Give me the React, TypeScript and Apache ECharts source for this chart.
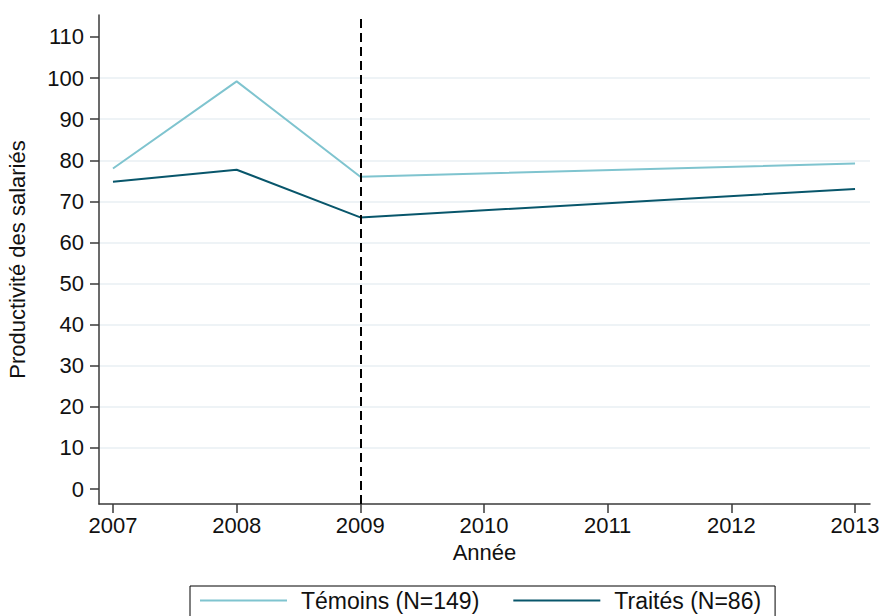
import React, { useEffect, useRef } from "react";
import * as echarts from "echarts";

const years = [2007, 2008, 2009, 2010, 2011, 2012, 2013];
const yTicks = [0, 10, 20, 30, 40, 50, 60, 70, 80, 90, 100, 110];
const gridValues = [10, 20, 30, 40, 50, 60, 70, 80, 90, 100];
const temoinsYears = [2007, 2008, 2009, 2013];
const temoinsValues = [78.0, 99.2, 76.0, 79.2];
const traitesYears = [2007, 2008, 2009, 2013];
const traitesValues = [74.8, 77.7, 66.1, 73.0];
const treatmentYear = 2009;
const seriesNames = ["Témoins (N=149)", "Traités (N=86)"];

const FONT = "'Liberation Sans', Arial, sans-serif";
const FS = 22;

export default function App() {
  const ref = useRef<HTMLDivElement>(null);
  useEffect(() => {
    if (!ref.current) return;
    const chart = echarts.init(ref.current, null, { renderer: "svg" });
    chart.setOption({
      animation: false,
      backgroundColor: "#ffffff",
      textStyle: { fontFamily: FONT },
      grid: { left: 99, right: 14, top: 15, bottom: 112, outerBoundsMode: "none", containLabel: false },
      legend: {
        data: seriesNames,
        left: 190,
        top: 586,
        orient: "horizontal",
        icon: "rect",
        itemWidth: 87,
        itemHeight: 2,
        itemGap: 34,
        padding: [3, 14, 14, 10],
        borderColor: "#000000",
        borderWidth: 1,
        textStyle: { fontSize: 23, color: "#111", fontFamily: FONT, padding: [0, 0, 0, 9] },
      },
      xAxis: {
        type: "value",
        min: 2006.887,
        max: 2013.121,
        name: "Année",
        nameLocation: "middle",
        nameGap: 37,
        nameTextStyle: { fontSize: FS, color: "#111", fontFamily: FONT },
        axisLine: { show: true, onZero: false, lineStyle: { color: "#3a3a3a", width: 1.5 } },
        axisTick: { show: true, length: 9, customValues: years, lineStyle: { color: "#3a3a3a", width: 1.5 } },
        axisLabel: {
          customValues: years,
          fontSize: FS,
          color: "#111",
          margin: 10,
          fontFamily: FONT,
          formatter: (v: number) => String(v),
        },
        splitLine: { show: false },
      },
      yAxis: {
        type: "value",
        min: -3.65,
        max: 115.35,
        name: "Productivité des salariés",
        nameLocation: "middle",
        nameGap: 71,
        nameTextStyle: { fontSize: FS, color: "#111", fontFamily: FONT },
        axisLine: { show: true, onZero: false, lineStyle: { color: "#3a3a3a", width: 1.5 } },
        axisTick: { show: true, length: 9, customValues: yTicks, lineStyle: { color: "#3a3a3a", width: 1.5 } },
        axisLabel: { customValues: yTicks, fontSize: FS, color: "#111", margin: 15, fontFamily: FONT },
        splitLine: { show: false },
      },
      series: [
        {
          name: "grid",
          type: "line",
          data: [],
          z: 0,
          silent: true,
          markLine: {
            silent: true,
            symbol: ["none", "none"],
            z: 0,
            label: { show: false },
            lineStyle: { color: "#e8eff3", width: 1.5, type: "solid" },
            data: gridValues.map((v) => ({ yAxis: v })),
          },
        },
        {
          name: seriesNames[0],
          type: "line",
          data: temoinsYears.map((y, i) => [y, temoinsValues[i]]),
          color: "#7fc4cf",
          lineStyle: { color: "#7fc4cf", width: 2 },
          itemStyle: { color: "#7fc4cf" },
          showSymbol: false,
          symbol: "none",
          z: 3,
        },
        {
          name: seriesNames[1],
          type: "line",
          data: traitesYears.map((y, i) => [y, traitesValues[i]]),
          color: "#08566b",
          lineStyle: { color: "#08566b", width: 2 },
          itemStyle: { color: "#08566b" },
          showSymbol: false,
          symbol: "none",
          z: 3,
          markLine: {
            silent: true,
            symbol: ["none", "none"],
            z: 4,
            label: { show: false },
            lineStyle: { color: "#000000", width: 2, type: [9, 5] },
            data: [{ xAxis: treatmentYear }],
          },
        },
      ],
    });
    return () => chart.dispose();
  }, []);
  return <div ref={ref} style={{ width: 884, height: 616, position: "absolute", left: 0, top: 0 }} />;
}
